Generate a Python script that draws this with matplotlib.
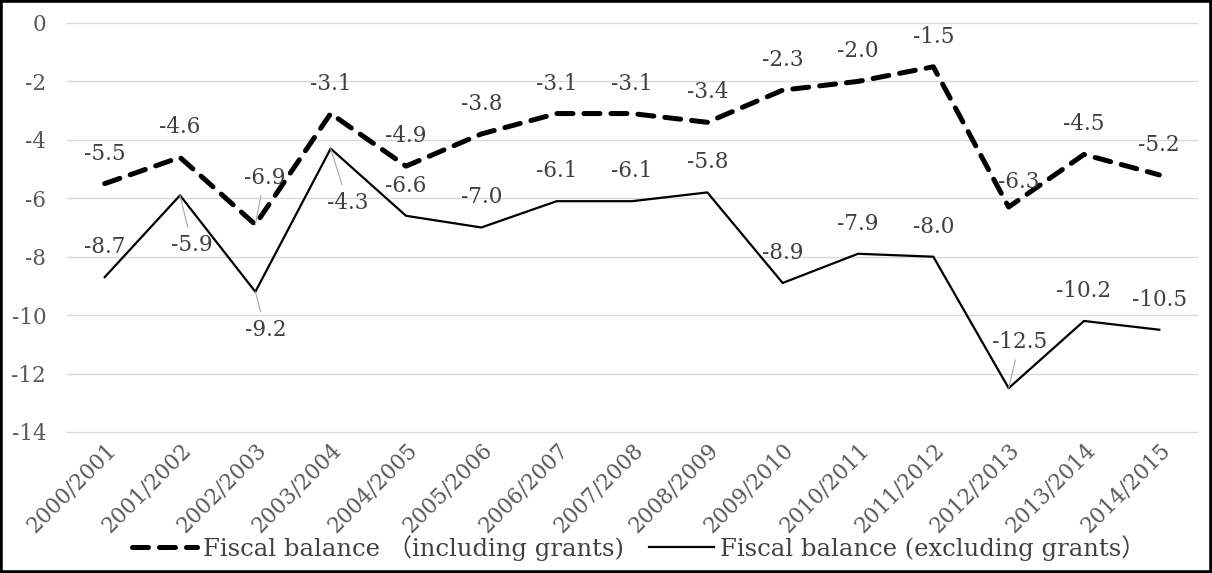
import matplotlib
matplotlib.use("Agg")
import matplotlib.pyplot as plt
from matplotlib.patches import Rectangle

# fiscal years and balances (% of GDP)
years = ["2000/2001", "2001/2002", "2002/2003", "2003/2004", "2004/2005",
         "2005/2006", "2006/2007", "2007/2008", "2008/2009", "2009/2010",
         "2010/2011", "2011/2012", "2012/2013", "2013/2014", "2014/2015"]
incl_grants = [-5.5, -4.6, -6.9, -3.1, -4.9, -3.8, -3.1, -3.1, -3.4, -2.3,
               -2.0, -1.5, -6.3, -4.5, -5.2]
excl_grants = [-8.7, -5.9, -9.2, -4.3, -6.6, -7.0, -6.1, -6.1, -5.8, -8.9,
               -7.9, -8.0, -12.5, -10.2, -10.5]
y_ticks = [0, -2, -4, -6, -8, -10, -12, -14]

plt.rcParams["font.family"] = ["DejaVu Serif", "Noto Sans CJK JP"]

fig = plt.figure(figsize=(12.12, 5.73), dpi=100)
ax = fig.add_axes([0.0553, 0.2461, 0.9323, 0.7138])

x = list(range(len(years)))
l1, = ax.plot(x, incl_grants, color="black", lw=3.6, ls=(0, (3.2, 2.2)),
              dash_capstyle="round", solid_joinstyle="round", zorder=3)
l2, = ax.plot(x, excl_grants, color="black", lw=1.6, zorder=3)

# data labels: default sits above the point, a few are moved with a leader line
lab_color = "#404040"
fs = 15.5
moved_incl = {2: (9, 47), 12: (10, 25)}
moved_excl = {1: (12, -50), 2: (10, -38), 3: (17, -54), 12: (11, 46)}
leaders_incl = {2}
leaders_excl = {1, 2, 3, 12}

def label_series(vals, moved, leaders):
    for i, v in enumerate(vals):
        dx, dy = moved.get(i, (0, 30))
        arrow = None
        if i in leaders:
            arrow = dict(arrowstyle="-", color="#a6a6a6", lw=0.8,
                         shrinkA=3, shrinkB=0)
        ax.annotate(f"{v:.1f}", xy=(i, v), xytext=(dx, dy),
                    textcoords="offset pixels", ha="center", va="center",
                    fontsize=fs, color=lab_color, arrowprops=arrow, zorder=4)

label_series(incl_grants, moved_incl, leaders_incl)
label_series(excl_grants, moved_excl, leaders_excl)

ax.set_xlim(-0.5, len(years) - 0.5)
ax.set_ylim(-14, 0)
ax.set_yticks(y_ticks)
ax.set_yticklabels([str(t) for t in y_ticks])
ax.set_xticks(x)
ax.set_xticklabels(years, rotation=45, ha="right", rotation_mode="anchor")
ax.tick_params(axis="both", length=0, labelsize=fs, labelcolor="#595959")
ax.tick_params(axis="y", pad=15)
ax.tick_params(axis="x", pad=5)
ax.grid(axis="y", color="#d9d9d9", lw=1)
for gl in ax.get_ygridlines():
    gl.set_clip_on(False)
ax.set_axisbelow(True)
for s in ax.spines.values():
    s.set_visible(False)

fig.legend([l1, l2],
           ["Fiscal balance （including grants)",
            "Fiscal balance (excluding grants）"],
           loc="center", bbox_to_anchor=(0.527, 0.044), ncol=2, frameon=False,
           fontsize=17.5, handlelength=2.7, columnspacing=1.0,
           handletextpad=0.25, labelcolor="#404040")

# outer frame
fig.add_artist(Rectangle((0, 0), 1, 1, transform=fig.transFigure,
                         fill=False, ec="black", lw=4))

fig.savefig("out.png", dpi=100)
